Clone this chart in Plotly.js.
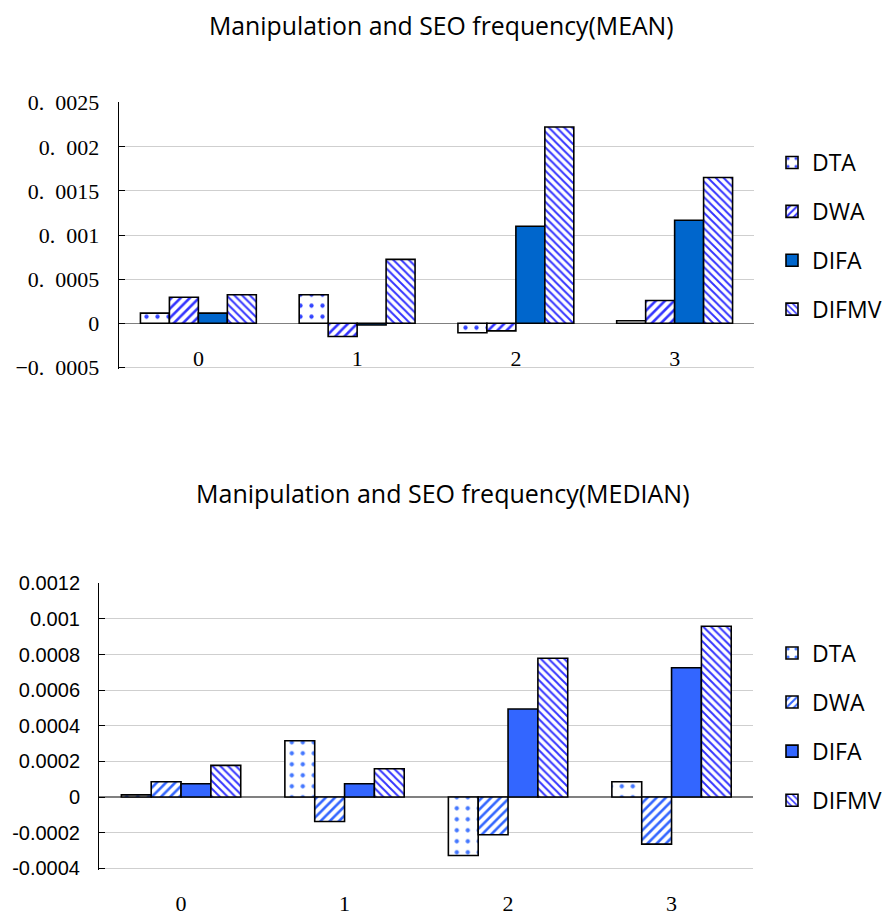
<!DOCTYPE html>
<html>
<head>
<meta charset="utf-8">
<script src="https://cdn.plot.ly/plotly-3.0.1.min.js"></script>
<style>html,body{margin:0;padding:0;background:#fff;}#chart{width:892px;height:920px;}</style>
</head>
<body>
<div id="chart"></div>
<script>
// ---- data ----
const categories = ['0', '1', '2', '3'];
const seriesNames = ['DTA', 'DWA', 'DIFA', 'DIFMV'];

const meanDTA   = [0.000114, 0.000323, -0.000109, 0.000027];
const meanDWA   = [0.000295, -0.000151, -0.000087, 0.000258];
const meanDIFA  = [0.000114, -0.00002, 0.0011, 0.001167];
const meanDIFMV = [0.000323, 0.000724, 0.002224, 0.001652];

const medDTA   = [0.000012, 0.000316, -0.000328, 0.000086];
const medDWA   = [0.000086, -0.000137, -0.000212, -0.000264];
const medDIFA  = [0.000075, 0.000075, 0.000494, 0.000726];
const medDIFMV = [0.000178, 0.000159, 0.000779, 0.000959];

const meanTickVals = [-0.0005, 0, 0.0005, 0.001, 0.0015, 0.002, 0.0025];
const meanTickText = ['\u22120.\u20020005', '0', '0.\u20020005', '0.\u2002001', '0.\u20020015', '0.\u2002002', '0.\u20020025'];
const medTickVals = [-0.0004, -0.0002, 0, 0.0002, 0.0004, 0.0006, 0.0008, 0.001, 0.0012];
const medTickText = ['-0.0004', '-0.0002', '0', '0.0002', '0.0004', '0.0006', '0.0008', '0.001', '0.0012'];

const titleMean = 'Manipulation and SEO frequency(MEAN)';
const titleMedian = 'Manipulation and SEO frequency(MEDIAN)';

// ---- styles ----
const W = 892, H = 920;
const topDom = {x: [119 / W, 754 / W], y: [1 - 369.3 / H, 1 - 102.2 / H], r: [-0.0005227, 0.0025057]};
const botDom = {x: [99.3 / W, 753.3 / W], y: [1 - 870.3 / H, 1 - 582.8 / H], r: [-0.0004112, 0.0012028]};

const outline = {color: '#000', width: 1.6};
function styleFor(name, panel) {
  const blueTop = '#3333ff', blueBot = '#3366ff';
  if (name === 'DTA') return {color: '#fff', line: outline, pattern: {shape: '.', size: 11, solidity: 0.12, fgcolor: panel === 1 ? '#3344ff' : '#4477ff', bgcolor: '#fff', fillmode: 'replace'}};
  if (name === 'DWA') return {color: '#fff', line: outline, pattern: {shape: '/', size: 6.5, solidity: 0.4, fgcolor: panel === 1 ? blueTop : blueBot, bgcolor: '#fff', fillmode: 'replace'}};
  if (name === 'DIFA') return {color: panel === 1 ? '#0066cc' : '#3366ff', line: outline};
  return {color: '#fff', line: outline, pattern: {shape: '\\', size: 5.5, solidity: 0.35, fgcolor: blueTop, bgcolor: '#fff', fillmode: 'replace'}};
}

const meanSeries = [meanDTA, meanDWA, meanDIFA, meanDIFMV];
const medSeries = [medDTA, medDWA, medDIFA, medDIFMV];
const traces = [];
seriesNames.forEach((n, i) => {
  traces.push({type: 'bar', name: n, x: categories, y: meanSeries[i], xaxis: 'x', yaxis: 'y',
    marker: styleFor(n, 1), legend: 'legend', legendgroup: 'm' + n, hoverinfo: 'skip'});
});
seriesNames.forEach((n, i) => {
  traces.push({type: 'bar', name: n, x: categories, y: medSeries[i], xaxis: 'x2', yaxis: 'y2',
    marker: styleFor(n, 2), legend: 'legend2', legendgroup: 'd' + n, hoverinfo: 'skip'});
});

function zeroPos(d) { return d.y[0] + (0 - d.r[0]) / (d.r[1] - d.r[0]) * (d.y[1] - d.y[0]); }

const serif = 'Liberation Serif, DejaVu Serif, serif';
const sans = 'Open Sans, Noto Sans, sans-serif';
const gridColor = '#cfcfcf';

const layout = {
  width: W, height: H,
  margin: {l: 0, r: 0, t: 0, b: 0},
  paper_bgcolor: '#fff', plot_bgcolor: '#fff',
  barmode: 'group', bargap: 0.27, bargroupgap: 0,
  showlegend: true,
  xaxis: {domain: topDom.x, anchor: 'free', position: 1 - 337 / H, type: 'category', showgrid: false, zeroline: false, showline: false,
    ticks: 'outside', ticklen: 2, tickcolor: 'rgba(0,0,0,0)', tickfont: {family: serif, size: 22, color: '#000'}},
  yaxis: {domain: topDom.y, anchor: 'x', range: topDom.r, tickvals: meanTickVals, ticktext: meanTickText,
    showgrid: true, gridcolor: gridColor, gridwidth: 1, zeroline: true, zerolinecolor: '#808080', zerolinewidth: 1.3,
    showline: true, linecolor: '#000', linewidth: 1.3, ticks: 'inside', ticklen: 6, tickcolor: '#000',
    ticklabelstandoff: 14, tickfont: {family: serif, size: 22, color: '#000'}},
  xaxis3: {overlaying: 'x', anchor: 'free', position: zeroPos(topDom), range: [-0.5, 3.5], type: 'linear',
    tickvals: [0.5, 1.5, 2.5, 3.5], ticks: 'inside', ticklen: 6, tickcolor: '#808080', tickwidth: 1.3,
    showticklabels: false, showgrid: false, zeroline: false, showline: false},
  xaxis2: {domain: botDom.x, anchor: 'y2', type: 'category', showgrid: false, zeroline: false, showline: false,
    ticks: 'outside', ticklen: 13, tickcolor: 'rgba(0,0,0,0)', tickfont: {family: serif, size: 22, color: '#000'}},
  yaxis2: {domain: botDom.y, anchor: 'x2', range: botDom.r, tickvals: medTickVals, ticktext: medTickText,
    showgrid: true, gridcolor: gridColor, gridwidth: 1, zeroline: true, zerolinecolor: '#808080', zerolinewidth: 1.3,
    showline: true, linecolor: '#000', linewidth: 1.3, ticks: 'inside', ticklen: 6, tickcolor: '#000',
    ticklabelstandoff: 14, tickfont: {family: 'Liberation Sans, Arial, sans-serif', size: 20, color: '#000'}},
  xaxis4: {overlaying: 'x2', anchor: 'free', position: zeroPos(botDom), range: [-0.5, 3.5], type: 'linear',
    tickvals: [0.5, 1.5, 2.5, 3.5], ticks: 'inside', ticklen: 6, tickcolor: '#808080', tickwidth: 1.3,
    showticklabels: false, showgrid: false, zeroline: false, showline: false},
  legend: {x: 772 / W, y: 1 - 141 / H, xanchor: 'left', yanchor: 'top', tracegroupgap: 16,
    font: {family: sans, size: 23, color: '#000'}, bgcolor: 'rgba(0,0,0,0)', itemclick: false},
  legend2: {x: 772 / W, y: 1 - 631.5 / H, xanchor: 'left', yanchor: 'top', tracegroupgap: 16.2,
    font: {family: sans, size: 23, color: '#000'}, bgcolor: 'rgba(0,0,0,0)', itemclick: false},
  annotations: [
    {text: titleMean, xref: 'paper', yref: 'paper', x: 441 / W, y: 1 - 25 / H, xanchor: 'center', yanchor: 'middle',
      showarrow: false, font: {family: sans, size: 24.8, color: '#000'}},
    {text: titleMedian, xref: 'paper', yref: 'paper', x: 443 / W, y: 1 - 493 / H, xanchor: 'center', yanchor: 'middle',
      showarrow: false, font: {family: sans, size: 25, color: '#000'}}
  ]
};

Plotly.newPlot('chart', traces, layout, {displayModeBar: false, staticPlot: true});
</script>
</body>
</html>
